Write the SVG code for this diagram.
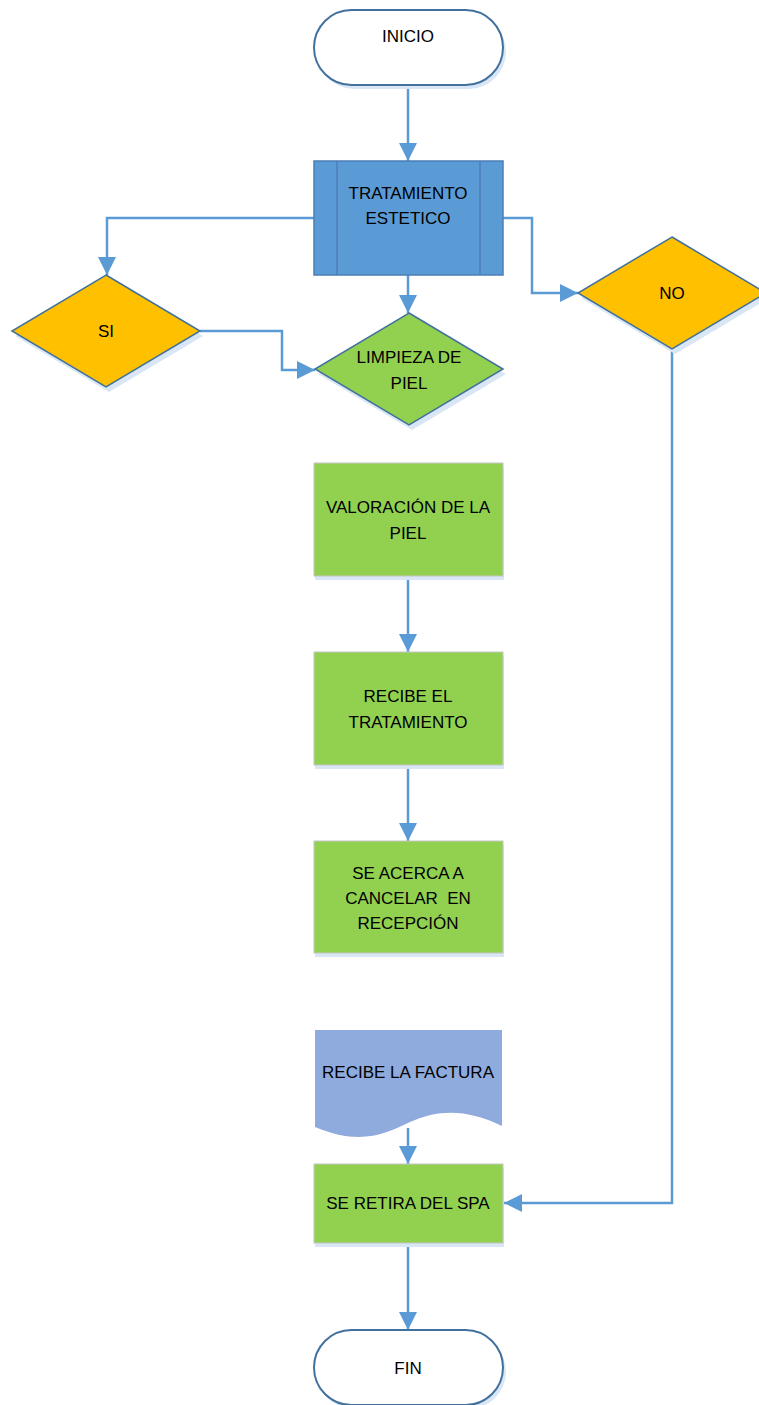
<svg xmlns="http://www.w3.org/2000/svg" width="759" height="1405" viewBox="0 0 759 1405">
<style>
text{font-family:"Liberation Sans",Arial,sans-serif;font-size:17px;fill:#000;text-anchor:middle}
.sh{fill:#D9E6F5}
.term{fill:#fff;stroke:#41719C;stroke-width:2}
.proc{fill:#92D050;stroke:#C6C6C6;stroke-width:1}
.sub{fill:#5B9BD5;stroke:#4A7FB5;stroke-width:1.5}
.dy{fill:#FFC000;stroke:#41719C;stroke-width:1.5}
.dg{fill:#92D050;stroke:#41719C;stroke-width:1.5}
.doc{fill:#8FAADC}
.c{fill:none;stroke:#5B9BD5;stroke-width:2.5}
</style>
<defs>
<marker id="ah" markerUnits="userSpaceOnUse" markerWidth="18" markerHeight="18" viewBox="0 0 18 18" refX="18" refY="9" orient="auto">
<path d="M0,0 L18,9 L0,18 Z" fill="#5B9BD5"/>
</marker>
</defs>
<g id="connectors">
<path class="c" d="M408,85 V161" marker-end="url(#ah)"/>
<path class="c" d="M314,218 H107 V275" marker-end="url(#ah)"/>
<path class="c" d="M408,275 V313" marker-end="url(#ah)"/>
<path class="c" d="M503,218 H532 V293 H578" marker-end="url(#ah)"/>
<path class="c" d="M200,331 H282 V370 H315" marker-end="url(#ah)"/>
<path class="c" d="M408,576 V652" marker-end="url(#ah)"/>
<path class="c" d="M408,765 V841" marker-end="url(#ah)"/>
<path class="c" d="M408,1128 V1164" marker-end="url(#ah)"/>
<path class="c" d="M672,349 V1203 H504" marker-end="url(#ah)"/>
<path class="c" d="M408,1243 V1330" marker-end="url(#ah)"/>
</g>
<g id="inicio">
<rect class="sh" x="317" y="14" width="189" height="75" rx="37.5"/>
<rect class="term" x="314" y="10" width="189" height="75" rx="37.5"/>
<text x="408" y="42">INICIO</text>
</g>
<g id="tratamiento">
<rect class="sub" x="314" y="161" width="189" height="114"/>
<line x1="337" y1="161" x2="337" y2="275" stroke="#4A7FB5" stroke-width="1.5"/>
<line x1="480" y1="161" x2="480" y2="275" stroke="#4A7FB5" stroke-width="1.5"/>
<text x="408" y="199">TRATAMIENTO</text>
<text x="408" y="224">ESTETICO</text>
</g>
<g id="si">
<path class="sh" d="M109,280 L203,336 L109,392 L15,336 Z"/>
<path class="dy" d="M106,275 L200,331 L106,387 L12,331 Z"/>
<text x="106" y="337">SI</text>
</g>
<g id="limpieza">
<path class="sh" d="M412,318 L506,374 L412,430 L318,374 Z"/>
<path class="dg" d="M409,313 L503,369 L409,425 L315,369 Z"/>
<text x="409" y="363">LIMPIEZA DE</text>
<text x="409" y="389">PIEL</text>
</g>
<g id="no">
<path class="sh" d="M675,242 L769,298 L675,354 L581,298 Z"/>
<path class="dy" d="M672,237 L766,293 L672,349 L578,293 Z"/>
<text x="672" y="299">NO</text>
</g>
<g id="valoracion">
<rect class="sh" x="315" y="467" width="189" height="113"/>
<rect class="proc" x="314" y="463" width="189" height="113"/>
<text x="408" y="513">VALORACIÓN DE LA</text>
<text x="408" y="539">PIEL</text>
</g>
<g id="recibe-tratamiento">
<rect class="sh" x="315" y="656" width="189" height="113"/>
<rect class="proc" x="314" y="652" width="189" height="113"/>
<text x="408" y="702">RECIBE EL</text>
<text x="408" y="728">TRATAMIENTO</text>
</g>
<g id="cancelar">
<rect class="sh" x="315" y="845" width="189" height="112"/>
<rect class="proc" x="314" y="841" width="189" height="112"/>
<text x="408" y="879">SE ACERCA A</text>
<text x="408" y="904" xml:space="preserve">CANCELAR  EN</text>
<text x="408" y="929">RECEPCIÓN</text>
</g>
<g id="factura">
<path class="doc" d="M315,1030 H502 V1126 C470,1110 440,1108 410,1122 C385,1134 360,1146 315,1127 Z"/>
<text x="408" y="1078">RECIBE LA FACTURA</text>
</g>
<g id="retira">
<rect class="sh" x="315" y="1168" width="189" height="79"/>
<rect class="proc" x="314" y="1164" width="189" height="79"/>
<text x="408" y="1209">SE RETIRA DEL SPA</text>
</g>
<g id="fin">
<rect class="sh" x="317" y="1334" width="189" height="75" rx="37.5"/>
<rect class="term" x="314" y="1330" width="189" height="75" rx="37.5"/>
<text x="408" y="1374">FIN</text>
</g>
</svg>
